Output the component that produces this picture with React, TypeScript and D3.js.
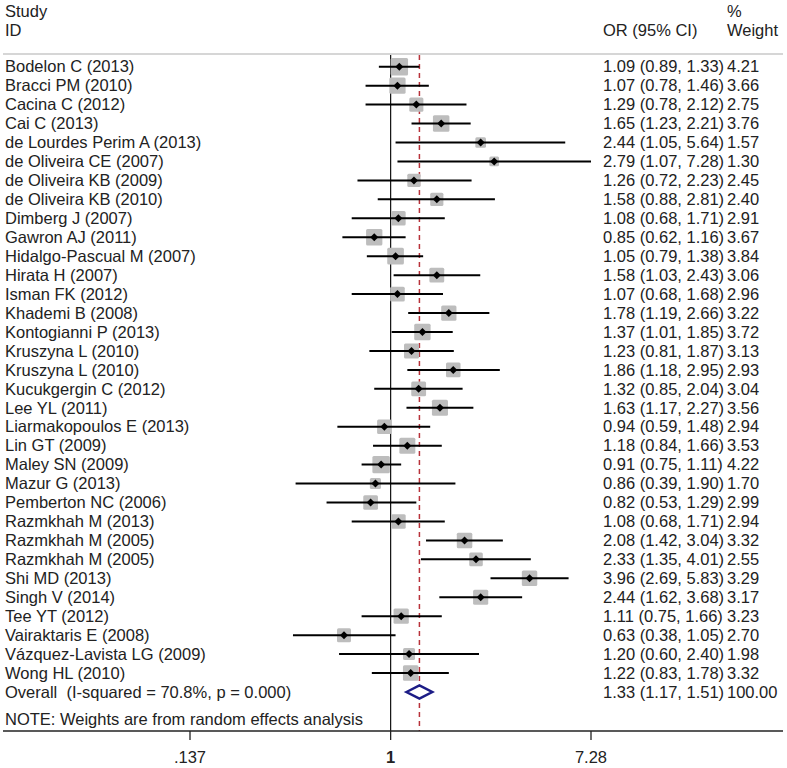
import React from "react";
import * as d3 from "d3";

const studies = [
  "Bodelon C (2013)", "Bracci PM (2010)", "Cacina C (2012)", "Cai C (2013)",
  "de Lourdes Perim A (2013)", "de Oliveira CE (2007)", "de Oliveira KB (2009)",
  "de Oliveira KB (2010)", "Dimberg J (2007)", "Gawron AJ (2011)",
  "Hidalgo-Pascual M (2007)", "Hirata H (2007)", "Isman FK (2012)",
  "Khademi B (2008)", "Kontogianni P (2013)", "Kruszyna L (2010)",
  "Kruszyna L (2010)", "Kucukgergin C (2012)", "Lee YL (2011)",
  "Liarmakopoulos E (2013)", "Lin GT (2009)", "Maley SN (2009)",
  "Mazur G (2013)", "Pemberton NC (2006)", "Razmkhah M (2013)",
  "Razmkhah M (2005)", "Razmkhah M (2005)", "Shi MD (2013)", "Singh V (2014)",
  "Tee YT (2012)", "Vairaktaris E (2008)", "Vázquez-Lavista LG (2009)",
  "Wong HL (2010)",
];
const orValues = [1.09, 1.07, 1.29, 1.65, 2.44, 2.79, 1.26, 1.58, 1.08, 0.85, 1.05, 1.58, 1.07, 1.78, 1.37, 1.23, 1.86, 1.32, 1.63, 0.94, 1.18, 0.91, 0.86, 0.82, 1.08, 2.08, 2.33, 3.96, 2.44, 1.11, 0.63, 1.20, 1.22];
const lowerCI = [0.89, 0.78, 0.78, 1.23, 1.05, 1.07, 0.72, 0.88, 0.68, 0.62, 0.79, 1.03, 0.68, 1.19, 1.01, 0.81, 1.18, 0.85, 1.17, 0.59, 0.84, 0.75, 0.39, 0.53, 0.68, 1.42, 1.35, 2.69, 1.62, 0.75, 0.38, 0.60, 0.83];
const upperCI = [1.33, 1.46, 2.12, 2.21, 5.64, 7.28, 2.23, 2.81, 1.71, 1.16, 1.38, 2.43, 1.68, 2.66, 1.85, 1.87, 2.95, 2.04, 2.27, 1.48, 1.66, 1.11, 1.90, 1.29, 1.71, 3.04, 4.01, 5.83, 3.68, 1.66, 1.05, 2.40, 1.78];
const weights = [4.21, 3.66, 2.75, 3.76, 1.57, 1.30, 2.45, 2.40, 2.91, 3.67, 3.84, 3.06, 2.96, 3.22, 3.72, 3.13, 2.93, 3.04, 3.56, 2.94, 3.53, 4.22, 1.70, 2.99, 2.94, 3.32, 2.55, 3.29, 3.17, 3.23, 2.70, 1.98, 3.32];

const overallLabel = "Overall  (I-squared = 70.8%, p = 0.000)";
const overallOR = 1.33;
const overallLower = 1.17;
const overallUpper = 1.51;
const overallWeight = "100.00";
const noteText = "NOTE: Weights are from random effects analysis";
const tickValues = [0.137, 1, 7.28];
const tickLabels = [".137", "1", "7.28"];

const W = 787;
const H = 768;
const FONT = "'Liberation Sans', Arial, sans-serif";
const FS = 16.5;

export default function App() {
  const x = d3.scaleLog().domain([0.137, 7.28]).range([190, 591]);
  const rows = d3.range(studies.length + 1);
  const y = d3.scalePoint<number>().domain(rows).range([66.7, 692]);
  const axisY = 731;
  const topY = 55;
  const sq = (w: number) => 8.5 * Math.sqrt(w);
  const fmt = d3.format(".2f");
  const oy = y(studies.length)!;
  const dia = 6.5;

  return (
    <svg width={W} height={H} style={{ position: "absolute", left: 0, top: 0, background: "#fff" }}
      fontFamily={FONT} fontSize={FS}>
      <rect x={0} y={0} width={W} height={H} fill="#fff" />
      {/* header */}
      <text x={5} y={17} fill="#222">Study</text>
      <text x={5} y={36} fill="#222">ID</text>
      <text x={603} y={36} fill="#222">OR (95% CI)</text>
      <text x={727} y={17} fill="#222">%</text>
      <text x={727} y={36} fill="#222">Weight</text>
      <line x1={3} x2={783} y1={54} y2={54} stroke="#c8c8c8" strokeWidth={1.6} />

      {/* null line */}
      <line x1={x(1)} x2={x(1)} y1={topY} y2={axisY} stroke="#111" strokeWidth={1.2} />
      {/* overall dashed line */}
      <line x1={x(overallOR)} x2={x(overallOR)} y1={topY} y2={axisY} stroke="#b8323a"
        strokeWidth={1.5} strokeDasharray="5,4" />

      {studies.map((s, i) => {
        const cy = y(i)!;
        const cx = x(orValues[i]);
        const side = sq(weights[i]);
        return (
          <g key={i}>
            <text x={5} y={cy} dy="0.35em" fill="#222">{s}</text>
            <rect x={cx - side / 2} y={cy - side / 2} width={side} height={side}
              fill="#bdbdbd" rx={1.5} />
            <line x1={x(lowerCI[i])} x2={x(upperCI[i])} y1={cy} y2={cy} stroke="#000" strokeWidth={2} />
            <path d={`M${cx - 4},${cy}L${cx},${cy - 4}L${cx + 4},${cy}L${cx},${cy + 4}Z`} fill="#000" />
            <text x={603} y={cy} dy="0.35em" fill="#222">
              {`${fmt(orValues[i])} (${fmt(lowerCI[i])}, ${fmt(upperCI[i])})`}
            </text>
            <text x={727} y={cy} dy="0.35em" fill="#222">{fmt(weights[i])}</text>
          </g>
        );
      })}

      {/* overall */}
      <text x={5} y={oy} dy="0.35em" fill="#222" style={{ whiteSpace: "pre" }}>{overallLabel}</text>
      <path
        d={`M${x(overallLower)},${oy}L${x(overallOR)},${oy - dia}L${x(overallUpper)},${oy}L${x(overallOR)},${oy + dia}Z`}
        fill="#fff" stroke="#1c1c86" strokeWidth={2.5} />
      <text x={603} y={oy} dy="0.35em" fill="#222">
        {`${fmt(overallOR)} (${fmt(overallLower)}, ${fmt(overallUpper)})`}
      </text>
      <text x={727} y={oy} dy="0.35em" fill="#222">{overallWeight}</text>

      <text x={5} y={725} fill="#222">{noteText}</text>

      {/* axis */}
      <line x1={3} x2={783} y1={axisY} y2={axisY} stroke="#222" strokeWidth={1.3} />
      {tickValues.map((t, i) => (
        <g key={t}>
          <line x1={x(t)} x2={x(t)} y1={axisY} y2={axisY + 9} stroke="#222" strokeWidth={1.3} />
          <text x={x(t)} y={763} textAnchor="middle" fill="#222"
            fontWeight={tickLabels[i] === "1" ? "bold" : "normal"}>{tickLabels[i]}</text>
        </g>
      ))}
    </svg>
  );
}
